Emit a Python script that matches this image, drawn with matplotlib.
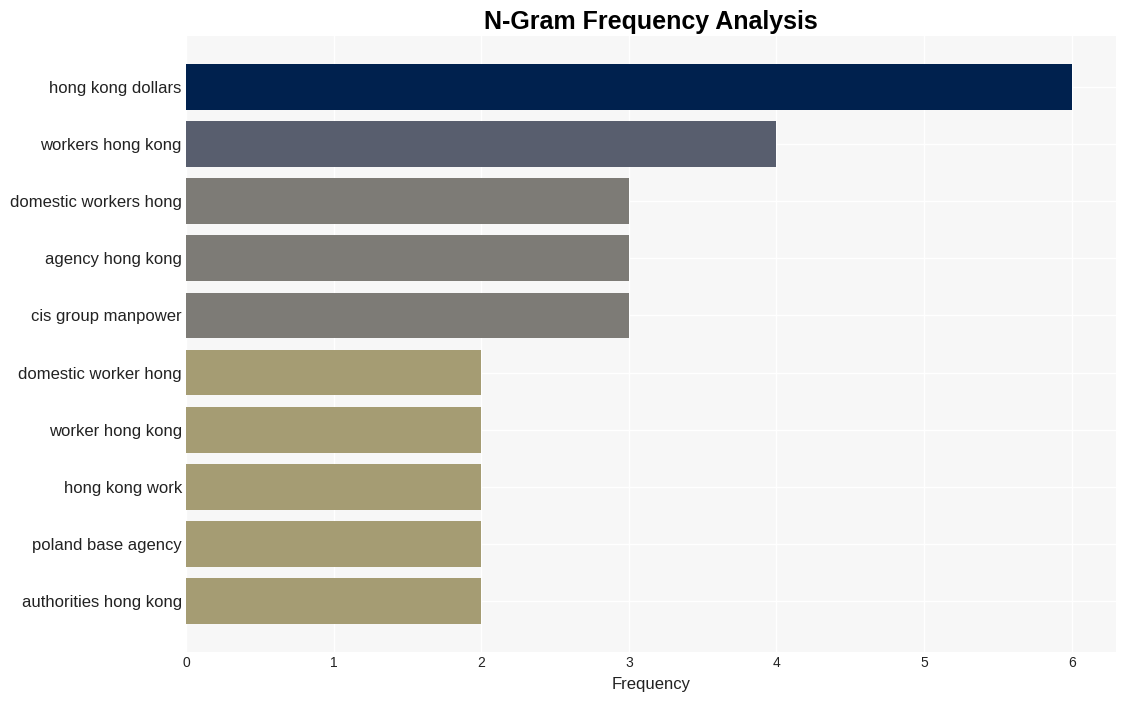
import matplotlib
matplotlib.use("Agg")
import matplotlib.pyplot as plt

labels = ["hong kong dollars", "workers hong kong", "domestic workers hong",
          "agency hong kong", "cis group manpower", "domestic worker hong",
          "worker hong kong", "hong kong work", "poland base agency",
          "authorities hong kong"]
values = [6, 4, 3, 3, 3, 2, 2, 2, 2, 2]
color_map = {6: "#00214e", 4: "#585e6e", 3: "#7d7b76", 2: "#a59c73"}

plt.rcParams['font.family'] = ['Liberation Sans', 'DejaVu Sans']

fig = plt.figure(figsize=(11.26, 7.01), dpi=100)
ax = fig.add_axes([0.1652, 0.0699, 0.9911 - 0.1652, 0.9486 - 0.0699])
ax.set_facecolor("#f7f7f7")
ypos = list(range(len(labels)))
ax.barh(ypos, values, height=0.8, color=[color_map[v] for v in values], zorder=3)
ax.set_yticks(ypos)
ax.set_yticklabels(labels, fontsize=12, color="#222222")
ax.invert_yaxis()
ax.set_xticks(range(0, 7))
ax.tick_params(axis='x', labelsize=10, colors="#222222", length=0, pad=3)
ax.tick_params(axis='y', length=0, pad=3)
ax.grid(True, color="white", linewidth=1, zorder=0)
ax.set_axisbelow(True)
for s in ax.spines.values():
    s.set_visible(False)
ax.set_xlabel("Frequency", fontsize=12, color="#222222", labelpad=5)
fig.text(0.578, 0.969, "N-Gram Frequency Analysis", ha="center", va="center",
         fontsize=18, fontweight="bold")
fig.savefig("out.png", dpi=100)
